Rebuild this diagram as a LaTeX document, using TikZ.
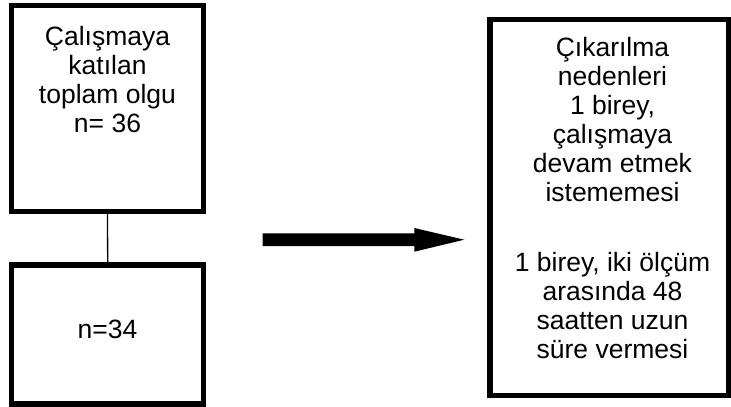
\documentclass[tikz,border=0pt]{standalone}
\usepackage{fontspec}
\setmainfont{Liberation Sans}
\begin{document}
\begin{tikzpicture}[x=1pt,y=-1pt,
  box/.style={draw=black,line width=5.5pt,fill=white,minimum width=#1,inner sep=0pt,outer sep=0pt},
  lbl/.style={align=center,inner sep=0pt,font=\fontsize{26.5}{29}\selectfont,anchor=base},
  link/.style={draw=black,line width=1.3pt}]
\useasboundingbox[fill=white] (0,0) rectangle (731,407);
% boxes
\node[box=192pt,minimum height=206pt] (top) at (107.5,108.5) {};
\node[box=192pt,minimum height=139pt] (bottom) at (107.7,334.5) {};
\node[box=239pt,minimum height=376pt] (right) at (609.5,207.6) {};
% texts (base anchor = baseline of last line)
\node[lbl] (toptext) at (107.5,132.5) {Çalışmaya\\katılan\\toplam olgu\\n= 36};
\node[lbl] (bottomtext) at (107.5,338.3) {n=34};
\node[lbl] (righttext) at (612.5,358.5) {Çıkarılma\\nedenleri\\1 birey,\\çalışmaya\\devam etmek\\istememesi\\[41pt]1 birey, iki ölçüm\\arasında 48\\saatten uzun\\süre vermesi};
% connector
\draw[link] (top.south) -- (bottom.north);
% block arrow
\coordinate (a1) at (262.7,233.3);
\coordinate (a2) at (414.3,233.3);
\coordinate (a3) at (414.3,228);
\coordinate (a4) at (464.3,239.7);
\coordinate (a5) at (414.3,251.7);
\coordinate (a6) at (414.3,246);
\coordinate (a7) at (262.7,246);
\fill[black] (a1) -- (a2) -- (a3) -- (a4) -- (a5) -- (a6) -- (a7) -- cycle;
\end{tikzpicture}
\end{document}
